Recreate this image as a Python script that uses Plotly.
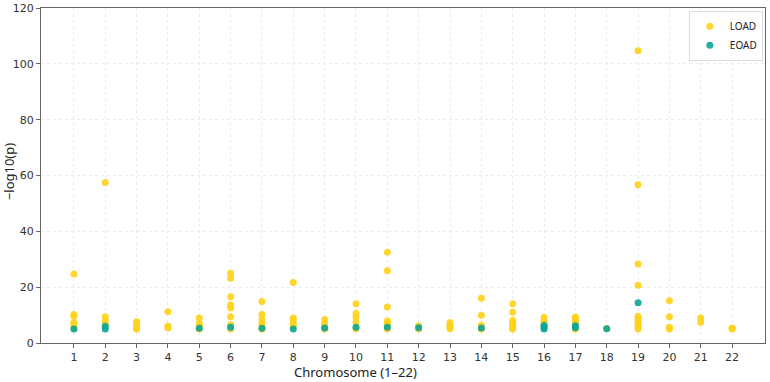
import plotly.graph_objects as go

chromosomes = list(range(1, 23))

load_chr = (
    [1]*6 + [2]*4 + [3]*5 + [4]*3 + [5]*4 + [6]*8 + [7]*6 + [8]*5 + [9]*4 + [10]*5 +
    [11]*7 + [12]*2 + [13]*4 + [14]*4 + [15]*7 + [16]*3 + [17]*5 + [18]*1 + [19]*10 +
    [20]*4 + [21]*2 + [22]*2
)
load_p = [
    24.7, 10.2, 9.6, 7.3, 6.7, 5.5,
    57.5, 9.4, 8.0, 6.6,
    7.6, 6.8, 6.0, 5.4, 5.0,
    11.2, 6.0, 5.4,
    9.0, 7.0, 6.0, 5.0,
    25.0, 23.2, 16.6, 13.6, 12.5, 9.4, 6.5, 5.0,
    14.9, 10.2, 8.4, 7.0, 6.2, 5.0,
    21.7, 9.0, 8.2, 6.8, 6.0,
    8.4, 7.0, 6.3, 5.0,
    14.1, 10.6, 9.1, 7.3, 5.1,
    32.5, 25.9, 12.9, 7.9, 7.3, 6.4, 5.0,
    6.2, 5.0,
    7.3, 6.5, 5.8, 5.1,
    16.0, 9.9, 6.4, 5.0,
    14.1, 11.0, 8.1, 7.4, 6.4, 5.6, 5.0,
    9.2, 7.8, 6.8,
    9.3, 8.6, 7.9, 7.2, 5.0,
    5.3,
    104.7, 56.7, 28.3, 20.7, 9.6, 8.6, 7.6, 6.8, 6.0, 5.0,
    15.1, 9.4, 5.6, 5.0,
    9.0, 7.4,
    5.4, 5.0,
]

eoad_chr = [1, 2, 2, 5, 6, 7, 8, 9, 10, 11, 12, 14, 16, 16, 16, 17, 17, 18, 19]
eoad_p = [5.0, 6.0, 5.0, 5.3, 5.6, 5.3, 5.0, 5.4, 5.6, 5.6, 5.5, 5.4, 6.3, 5.6, 5.0, 6.2, 5.5, 5.1, 14.4]

y_ticks = [0, 20, 40, 60, 80, 100, 120]

tick_font = "DejaVu Sans"
title_font = "Noto Sans"

fig = go.Figure()
fig.add_trace(go.Scatter(
    x=load_chr, y=load_p, mode="markers", name="LOAD",
    marker=dict(color="#FFD21A", size=7, opacity=0.9, line=dict(width=0)),
))
fig.add_trace(go.Scatter(
    x=eoad_chr, y=eoad_p, mode="markers", name="EOAD",
    marker=dict(color="#0AA596", size=7, opacity=0.9, line=dict(width=0)),
))

axis_common = dict(
    showline=True, linecolor="#666666", linewidth=1, mirror=True,
    ticks="outside", ticklen=4, tickcolor="#666666",
    tickfont=dict(family=tick_font, size=11, color="#333333"),
    showgrid=True, gridcolor="#ececec", griddash="3px,3px", gridwidth=1,
    zeroline=False, automargin=False,
)

fig.update_layout(
    width=770, height=382,
    margin=dict(l=41, r=5, t=8, b=39),
    paper_bgcolor="white", plot_bgcolor="white",
    font=dict(family=tick_font, color="#333333"),
    showlegend=True,
    legend=dict(
        x=0.997, y=0.992, xanchor="right", yanchor="top",
        bgcolor="rgba(255,255,255,0.9)", bordercolor="#dddddd", borderwidth=1,
        font=dict(family=title_font, size=10, color="#222222"),
        itemsizing="trace", itemwidth=30, tracegroupgap=0,
    ),
    xaxis=dict(
        range=[-0.05, 23.05], tickmode="array", tickvals=chromosomes,
        ticktext=[str(c) for c in chromosomes],
        **axis_common,
    ),
    yaxis=dict(
        range=[0, 120], tickmode="array", tickvals=y_ticks,
        **axis_common,
    ),
    annotations=[
        dict(text="Chromosome (1–22)", xref="paper", yref="paper", x=0.435, y=0,
             xanchor="center", yanchor="top", yshift=-19, borderpad=0, showarrow=False,
             font=dict(family=title_font, size=13, color="#222222")),
        dict(text="−log10(p)", xref="paper", yref="paper", x=0, y=0.51,
             xanchor="center", yanchor="middle", xshift=-32, textangle=-90, showarrow=False,
             font=dict(family=title_font, size=13, color="#222222")),
    ],
)

fig.write_html("out.html")
